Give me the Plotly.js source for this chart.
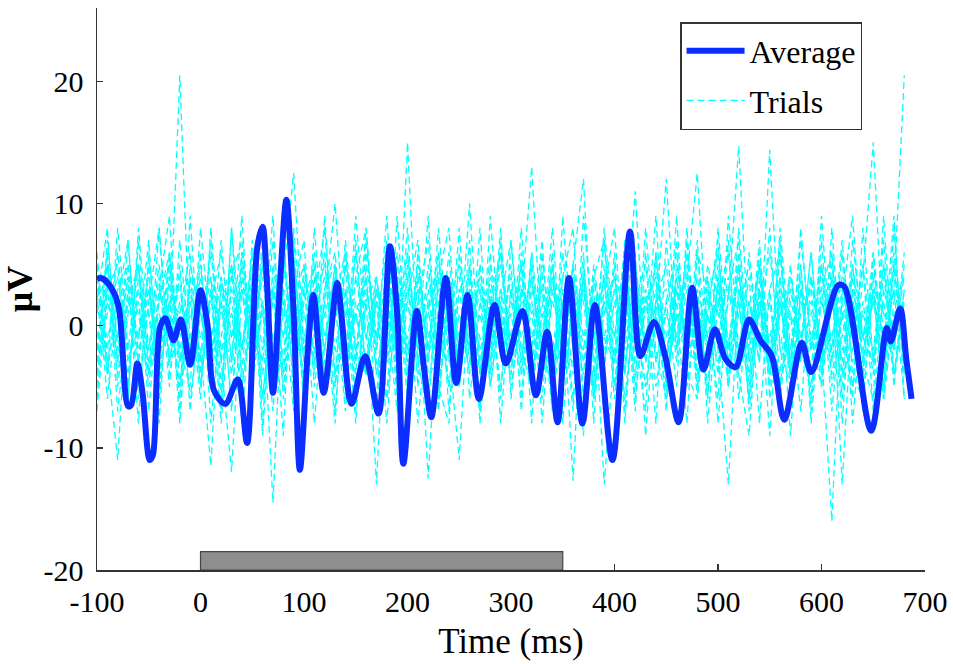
<!DOCTYPE html>
<html>
<head>
<meta charset="utf-8">
<script src="https://cdn.plot.ly/plotly-3.0.1.min.js"></script>
<style>
html,body{margin:0;padding:0;background:#fff;}
#chart{width:953px;height:664px;}
</style>
</head>
<body>
<div id="chart"></div>
<script>
// ---- Data ----
const avgTime = [-100,-96,-87,-79,-70,-67,-61,-56,-49,-46,-39,-34,-26,-19,-10,0,7,13,24,36,45,55,60,64,70,77,83,90,96,104,109,119,132,136,146,159,172,183,190,196,209,216,223,237,247,258,269,284,295,311,324,335,345,356,369,381,398,415,425,438,449,462,475,486,497,507,517,530,541,552,564,581,590,616,622,648,663,667,676,682,687];
const avgValues = [3.8,3.9,3.2,1.5,-6.6,-6.5,-3.1,-5.5,-11.0,-10.6,-0.1,0.6,-1.2,0.5,-3.2,2.9,-0.1,-5.3,-6.4,-4.4,-9.6,6.5,8.1,3.8,-5.5,3.8,10.3,1.0,-11.8,-1.7,2.5,-5.5,3.5,1.0,-6.4,-2.5,-7.2,6.5,1.0,-11.3,1.2,-3.5,-7.5,3.9,-4.7,2.5,-6.0,1.7,-3.1,1.2,-5.7,-0.5,-7.9,3.9,-8.0,1.7,-11.0,7.7,-2.5,0.3,-2.5,-7.9,3.1,-3.6,-0.3,-2.7,-3.4,0.5,-1.2,-2.5,-7.7,-1.4,-3.8,3.3,3.2,-8.6,-0.2,-1.3,1.4,-2.8,-6.0];

const trialTime = [-100,-90,-80,-70,-60,-50,-40,-30,-20,-10,0,10,20,30,40,50,60,70,80,90,100,110,120,130,140,150,160,170,180,190,200,210,220,230,240,250,260,270,280,290,300,310,320,330,340,350,360,370,380,390,400,410,420,430,440,450,460,470,480,490,500,510,520,530,540,550,560,570,580,590,600,610,620,630,640,650,660,670,680];

const trial1 = [4,-2,6,-3,2,-5,3,-1,20.5,-2, 5,-3,2,-6,4,-2,7,-4,1,5, -3,4,-5,2,6,-2,-4,3,-1,5, -2,3,-6,4,1,-3,5,-4,2,-1, 4,-3,6,-2,-5,3,1,-4,5,-2, 3,-6,2,5,-3,1,-2,4,-5,3, -1,4,-3,6,-2,2,-5,3,-1,4, -3,5,-2,1,-4,6,-2,3,-1];
const trial2 = [-3,5,-1,4,-6,2,-2,5,-3,3, -5,2,6,-1,3,-4,2,-14.5,4,12.5, -2,5,-4,1,3,-6,2,4,-3,1, 6,-2,3,-5,2,5,-3,1,-4,3, -1,5,-3,2,-4,6,-2,3,-5,1, 4,-2,5,-3,1,-6,3,-1,4,-2, 2,-5,3,-1,5,-3,1,4,-2,6, -4,2,-3,5,-1,3,-6,2,4];
const trial3 = [2,-4,3,5,-2,1,-6,4,-1,2, -3,6,-2,1,-5,3,2,-4,5,-1, 3,-2,-5,4,1,-3,6,-1,2,-4, 15,-3,2,4,-5,1,-2,5,-3,2, -4,3,1,-6,4,-2,5,-1,3,-13, -2,4,-1,3,-5,2,6,-3,1,-2, 5,-3,2,-4,1,6,-2,-5,3,1, -2,4,-6,3,-1,2,-3,5,-4];
const trial4 = [-1,3,-4,2,5,-3,1,-2,4,-6, 1,-2,4,-3,6,-1,2,-5,3,1, -4,2,5,-2,-3,4,-1,3,-6,2, 4,-1,-3,5,2,-4,3,-2,1,6, -3,2,13,-2,4,-5,1,3,-1,4, -5,3,-2,1,5,-3,2,-4,6,-1, 3,-4,1,5,-2,3,-6,2,-1,4, -2,-16,3,-1,5,-3,2,-4,1];
const trial5 = [3,-1,2,-5,4,1,-3,6,-2,3, -1,4,-3,-12,3,-2,5,-1,-4,2, 5,-3,1,4,-2,6,-4,2,-1,3, -3,5,-2,1,-5,3,2,-4,4,-2, 1,-4,3,-1,5,-2,-3,4,-6,2, -1,5,-3,2,4,-4,1,-2,3,-5, 4,-2,6,-3,1,-1,3,-5,2,-2, 5,-3,2,-5,4,15,-2,3,20.5];
const trial6 = [-4,2,-1,5,-3,3,-2,1,-5,4, 2,-5,3,1,-2,4,-6,3,-1,5, -3,1,4,-2,3,-5,2,-13,4,-1, 2,-4,5,-3,1,4,-2,3,-5,1, -2,4,-1,3,-4,2,-12.7,5,-3,2, 4,-3,1,-5,2,3,-1,6,-4,1, -3,2,14.7,-2,5,-4,1,3,-2,-5, 2,-1,4,-3,1,-2,5,-4,3];
const trial7 = [1,5,-3,2,-1,4,-5,2,3,-2, 4,-1,2,-4,5,-3,1,3,-5,2, -1,3,-2,5,-4,2,-1,4,-3,6, -2,3,-12.5,2,4,-1,-3,5,-2,3, -5,1,4,-3,2,-1,5,12,-4,2, -3,4,2,-5,1,12,-2,3,-1,4, -2,-13,3,-1,5,-3,2,-4,1,3, -5,2,-1,4,-3,3,-6,1,2];
const trial8 = [-2,4,1,-4,3,-2,5,-3,2,-1, 3,-4,-1,5,-2,3,-4,2,6,-3, 1,-2,3,5,-4,1,-3,4,-2,2, -3,5,-1,3,-2,-11,4,-3,2,-5, 3,-1,2,-4,5,-3,4,-2,1,-3, 2,-4,5,-1,3,-5,2,4,12.5,-2, 3,-1,-4,2,-3,14.4,-2,4,-1,2, -3,4,-13,2,-4,3,1,-2,5];
const trial9 = [2,-3,-11,3,1,-4,2,5,-3,1, -2,-11.5,4,-1,3,-2,1,-5,3,-4, 2,5,-1,3,-3,1,4,-4,2,-2, 3,-1,4,-2,2,-4,1,3,-1,5, -2,3,-4,1,-2,4,3,-3,2,-1, 3,-1,11,-3,2,-1,4,-2,-3,5, 1,-2,4,-1,3,-2,-4,5,-3,1, 3,-4,1,2,-1,-3,4,-2,-1];
const trial10 = [-3,1,4,-2,-1,3,-4,2,1,-3, 3,-2,1,2,-3,-1,4,-3,-2,3, 1,-3,2,10,-2,1,-4,3,2,-2, -1,4,-2,-1,3,-2,2,-1,-3,3, 2,-2,1,3,-3,2,-1,-2,4,-1, -3,2,-1,2,1,-3,3,-2,-1,2, 1,3,-2,-1,2,-4,3,1,-2,-1, 2,-2,3,-1,-2,2,-1,3,-6];
const trial11 = [6,-4,8,-2,5,-7,3,9,-5,2, -6,8,-3,5,-8,4,-2,9,-6,3, 7,-5,2,-8,6,-3,8,-4,1,-7, 5,-2,9,-6,3,-4,7,-8,2,6, -3,8,-5,1,-7,9,-2,4,-6,3, 8,-4,6,-9,2,5,-3,7,-5,1, -6,9,-2,4,-8,3,6,-4,8,-2, 5,-7,2,9,-3,6,-5,8,-4];
const trial12 = [-5,7,-2,4,-8,6,-3,2,-6,9, -4,3,-7,8,-2,5,-9,4,-3,7, -6,2,8,-4,5,-7,3,-2,9,-5, 4,-8,1,6,-3,8,-6,2,-4,7, -2,5,-8,6,-3,2,-7,9,-1,4, -6,3,-5,8,-2,-6,4,-3,7,-8, 2,6,-4,-9,3,-5,8,-2,5,-6, 9,-3,6,-8,2,-4,7,-5,3];
const trial13 = [2,8,-5,3,-1,7,-6,4,-8,5, 1,-4,7,-3,9,-5,2,-7,6,-2, 4,-8,3,6,-4,9,-1,-6,5,-3, 8,-5,2,-7,4,-2,10,-4,6,-8, 3,-6,5,-2,8,-4,1,-9,4,7, -3,5,-1,-7,6,-4,9,-5,2,-6, 8,-2,5,-6,3,-9,4,-3,7,-1, -5,8,-4,3,-7,5,-2,9,-6];
const trial14 = [-7,3,5,-6,8,-2,4,-5,7,-3, 6,-8,2,5,-4,7,-6,3,-9,8, -2,6,-5,2,-7,4,8,-3,-6,9, -4,2,7,-5,-8,6,-2,4,-3,8, -6,3,-2,7,-5,4,8,-6,2,-4, 6,-7,3,-2,9,-5,1,-8,6,3, -4,7,-6,2,-3,8,-5,1,-7,4, -2,6,-8,5,-3,-6,9,-4,2];
const trial15 = [4,-6,2,7,-3,5,-8,6,-2,-5, 8,-1,4,-7,6,-3,5,-2,8,-6, 3,-4,9,-5,2,-8,5,-1,7,-4, 6,-3,-7,4,8,-5,2,-6,9,-2, 5,-7,4,-3,6,-8,3,2,-5,8, -1,6,-4,3,-8,7,-2,5,-6,4, -8,3,7,-5,6,-2,4,-9,3,-4, 7,-5,1,-6,8,-3,5,-2,6];
const trial16 = [-2,6,-7,1,5,-4,8,-3,5,-7, 2,4,-6,8,-5,1,-3,7,-4,6, -7,3,-2,5,-6,7,-4,2,-8,4, -5,6,-3,8,-2,-4,5,-7,3,-6, 7,-2,-5,4,-6,3,-4,6,-8,5, -3,7,-6,2,4,-7,5,-1,3,-6, 4,-5,8,-3,7,-6,2,-4,5,-8, 3,6,-4,-2,5,-7,3,-1,4];
const trial17 = [5,-3,1,-6,7,-4,2,6,-7,4, -3,7,-5,3,-2,6,-8,5,-1,4, -6,8,-3,-5,7,-2,4,-7,5,3, -6,4,-2,6,-7,3,-4,8,-5,2, 7,-4,6,-8,3,-1,5,-6,4,-3, 5,-8,4,-2,6,-3,7,-4,-6,2, 6,-3,5,-7,2,-4,6,-3,4,-7, 5,-2,7,-4,-6,3,-5,6,-2];
const trial18 = [-6,4,-3,7,-5,2,8,-4,1,6, -5,3,-8,4,7,-3,6,-5,2,-7, 5,-1,6,-7,3,-4,7,-2,5,-6, 2,7,-4,-3,6,-5,3,-7,5,1, -4,6,-3,5,-7,2,-6,4,-2,7, -5,4,-7,6,-3,2,-5,8,-4,1, 7,-5,2,-6,4,-3,7,-4,-2,6, -4,3,-5,7,-1,4,-6,5,-3];
const trials = [trial1,trial2,trial3,trial4,trial5,trial6,trial7,trial8,trial9,trial10,trial11,trial12,trial13,trial14,trial15,trial16,trial17,trial18];

const stimulusWindow = [0, 350];       // ms, gray bar
const stimulusBarLevels = [-20, -18.5]; // µV

const xTickValues = [-100,0,100,200,300,400,500,600,700];
const xTickLabels = ['-100','0','100','200','300','400','500','600','700'];
const yTickValues = [-20,-10,0,10,20];
const yTickLabels = ['-20','-10','0','10','20'];

// ---- Traces ----
const serif = 'Liberation Serif, Times New Roman, serif';
const traces = [];
trials.forEach((vals, k) => {
  traces.push({
    x: trialTime, y: vals, type: 'scatter', mode: 'lines',
    name: 'Trials', legendgroup: 'trials', legendrank: 2,
    showlegend: k === 0,
    line: {color: '#00ffff', width: 1.3, dash: '7px,4px'},
    hoverinfo: 'skip'
  });
});
traces.push({
  x: avgTime, y: avgValues, type: 'scatter', mode: 'lines',
  name: 'Average', legendgroup: 'avg', legendrank: 1,
  line: {color: '#0a2eff', width: 6, shape: 'spline', smoothing: 0.9}
});

const layout = {
  width: 953, height: 664,
  margin: {l: 97, r: 28, t: 8, b: 94},
  paper_bgcolor: '#ffffff', plot_bgcolor: '#ffffff',
  font: {family: serif, size: 30, color: '#000'},
  showlegend: true,
  legend: {
    x: 0.924, xanchor: 'right', y: 0.975, yanchor: 'top',
    bgcolor: '#ffffff', bordercolor: '#333', borderwidth: 1.5,
    font: {family: serif, size: 32, color: '#000'},
    traceorder: 'grouped', tracegroupgap: 5, itemwidth: 58,
    entrywidth: 180, entrywidthmode: 'pixels'
  },
  xaxis: {
    range: [-100, 700], tickmode: 'array', tickvals: xTickValues, ticktext: xTickLabels,
    ticks: 'inside', ticklen: 6, tickcolor: '#333', tickwidth: 1.5,
    showline: true, linecolor: '#333', linewidth: 1.5, mirror: false,
    showgrid: false, zeroline: false, ticklabelstandoff: 4,
    tickfont: {family: serif, size: 30, color: '#000'},
    title: {text: 'Time (ms)', font: {family: serif, size: 35, color: '#000'}, standoff: 12}
  },
  yaxis: {
    range: [-20, 26], tickmode: 'array', tickvals: yTickValues, ticktext: yTickLabels,
    ticks: 'inside', ticklen: 6, tickcolor: '#333', tickwidth: 1.5,
    showline: true, linecolor: '#333', linewidth: 1.5, mirror: false,
    showgrid: false, zeroline: false, ticklabelstandoff: 6,
    tickfont: {family: serif, size: 30, color: '#000'},
    title: {text: '<b>μV</b>', font: {family: serif, size: 36, color: '#000'}, standoff: 0}
  },
  shapes: [{
    type: 'rect', xref: 'x', yref: 'y',
    x0: stimulusWindow[0], x1: stimulusWindow[1],
    y0: stimulusBarLevels[0], y1: stimulusBarLevels[1],
    fillcolor: '#8e8e8e', line: {color: '#444', width: 1.2}, layer: 'above'
  }]
};

Plotly.newPlot('chart', traces, layout, {displayModeBar: false, staticPlot: true});
</script>
</body>
</html>
